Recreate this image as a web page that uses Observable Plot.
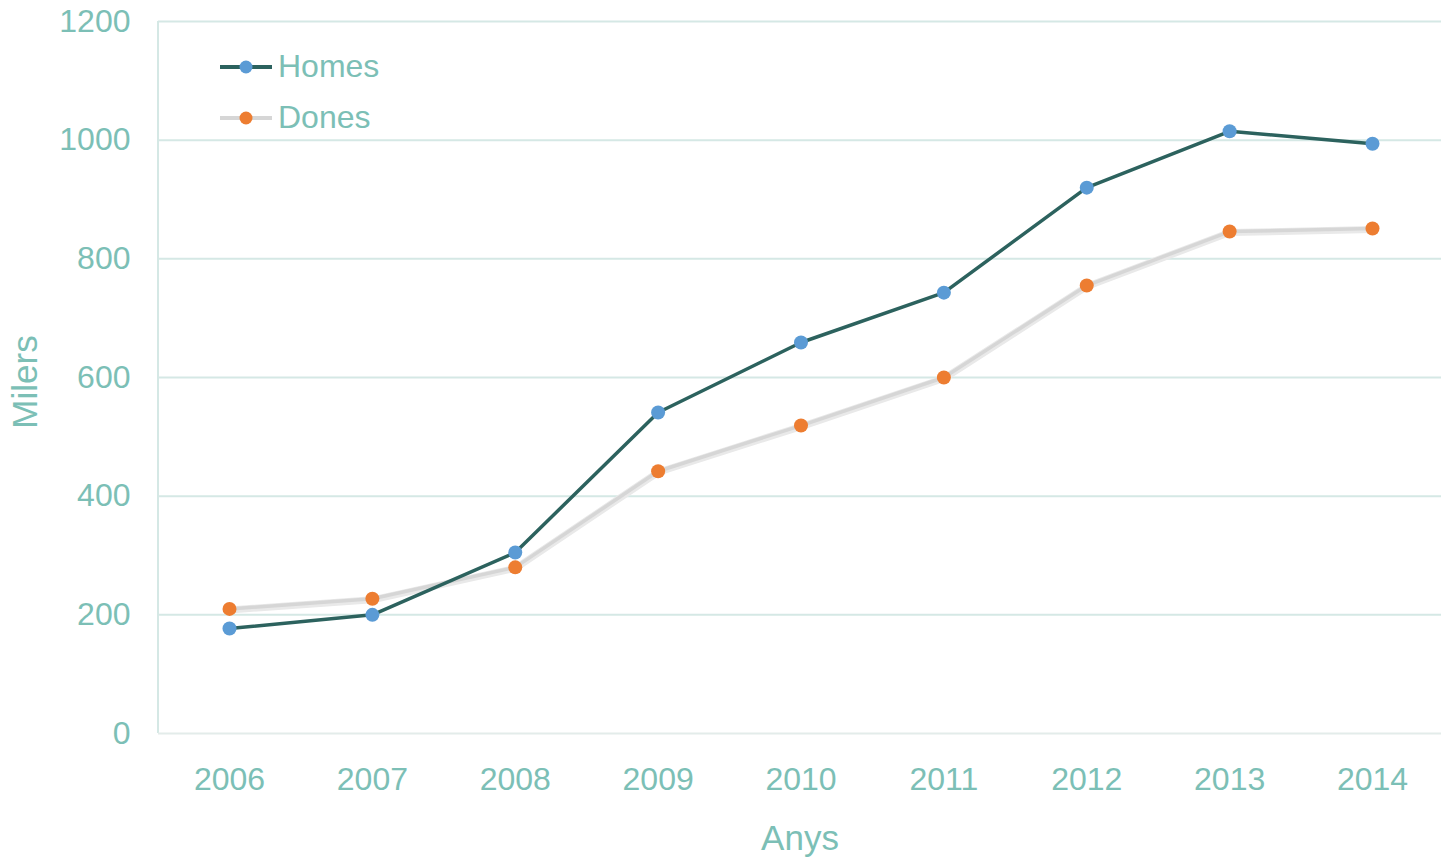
<!DOCTYPE html>
<html>
<head>
<meta charset="utf-8">
<script src="https://cdn.jsdelivr.net/npm/d3@7"></script>
<script src="https://cdn.jsdelivr.net/npm/@observablehq/plot@0.6"></script>
<style>
  html, body { margin: 0; padding: 0; background: #fff; }
  #wrap { position: relative; width: 1441px; height: 858px; font-family: "Liberation Sans", Arial, sans-serif; }
  #legend { position: absolute; left: 218px; top: 41px; color: #7cbfb6; font-size: 32px; }
  .item { display: flex; align-items: center; height: 51px; }
  .item span { margin-left: 4px; }
</style>
</head>
<body>
<div id="wrap">
  <div id="chart"></div>
  <div id="legend"></div>
</div>
<script>
const years = ["2006","2007","2008","2009","2010","2011","2012","2013","2014"];
const homes = [177, 200, 305, 541, 659, 743, 920, 1015, 994];
const dones = [210, 227, 280, 442, 519, 600, 755, 846, 851];
const yTicks = [0, 200, 400, 600, 800, 1000, 1200];
const seriesNames = ["Homes", "Dones"];
const xTitle = "Anys";
const yTitle = "Milers";

const textColor = "#7cbfb6";
const gridColor = "#d5e8e5";
const homesLine = "#2c625e";
const homesDot = "#5b9bd5";
const donesLine = "#d6d6d6";
const donesDot = "#ed7d31";

const rowsH = years.map((y, i) => ({year: y, value: homes[i]}));
const rowsD = years.map((y, i) => ({year: y, value: dones[i]}));

const chart = Plot.plot({
  width: 1441,
  height: 858,
  marginLeft: 158,
  marginRight: 0,
  marginTop: 21,
  marginBottom: 125,
  style: {fontFamily: "'Liberation Sans', Arial, sans-serif", fontSize: "32px", color: textColor, background: "#fff"},
  x: {type: "point", domain: years, range: [229, 1372], padding: 0, round: false, label: null},
  y: {domain: [0, 1200], label: null},
  marks: [
    Plot.ruleY(yTicks.filter(d => d > 0), {stroke: gridColor, strokeWidth: 2}),
    Plot.ruleY([0], {stroke: "#e3ecea", strokeWidth: 2}),
    Plot.axisY({ticks: yTicks, tickFormat: "d", tickSize: 0, tickPadding: 28, fill: textColor, fontSize: 32, label: null}),
    Plot.axisX({tickSize: 0, tickPadding: 34, fill: textColor, fontSize: 32, label: null}),
    Plot.text([xTitle], {frameAnchor: "bottom", dy: 116, fill: textColor, fontSize: 35, lineAnchor: "bottom"}),
    Plot.line(rowsD, {x: "year", y: "value", stroke: "#e9e9e9", strokeWidth: 7, dy: 1}),
    Plot.line(rowsD, {x: "year", y: "value", stroke: donesLine, strokeWidth: 3.5}),
    Plot.line(rowsH, {x: "year", y: "value", stroke: homesLine, strokeWidth: 3.5}),
    Plot.dot(rowsD, {x: "year", y: "value", r: 7, fill: donesDot, stroke: null}),
    Plot.dot(rowsH, {x: "year", y: "value", r: 7, fill: homesDot, stroke: null})
  ]
});
const yScale = chart.scale("y");
document.getElementById("chart").append(chart);
const svg = d3.select(chart);
svg.insert("line", ":first-child")
  .attr("x1", 158).attr("x2", 158)
  .attr("y1", yScale.apply(1200)).attr("y2", yScale.apply(0))
  .attr("stroke", gridColor).attr("stroke-width", 2);
svg.append("text")
  .attr("transform", `translate(25,${(yScale.apply(0) + yScale.apply(1200)) / 2 + 5}) rotate(-90)`)
  .attr("text-anchor", "middle").attr("dy", "0.35em")
  .attr("fill", textColor).attr("font-size", 35)
  .text(yTitle);

const legendColors = [[homesLine, homesDot], [donesLine, donesDot]];
const legend = d3.select("#legend");
seriesNames.forEach((name, i) => {
  const item = legend.append("div").attr("class", "item");
  const s = item.append("svg").attr("width", 56).attr("height", 20);
  s.append("line").attr("x1", 2).attr("x2", 54).attr("y1", 10).attr("y2", 10)
    .attr("stroke", legendColors[i][0]).attr("stroke-width", 4);
  s.append("circle").attr("cx", 28).attr("cy", 10).attr("r", 6.5).attr("fill", legendColors[i][1]);
  item.append("span").text(name);
});
</script>
</body>
</html>
